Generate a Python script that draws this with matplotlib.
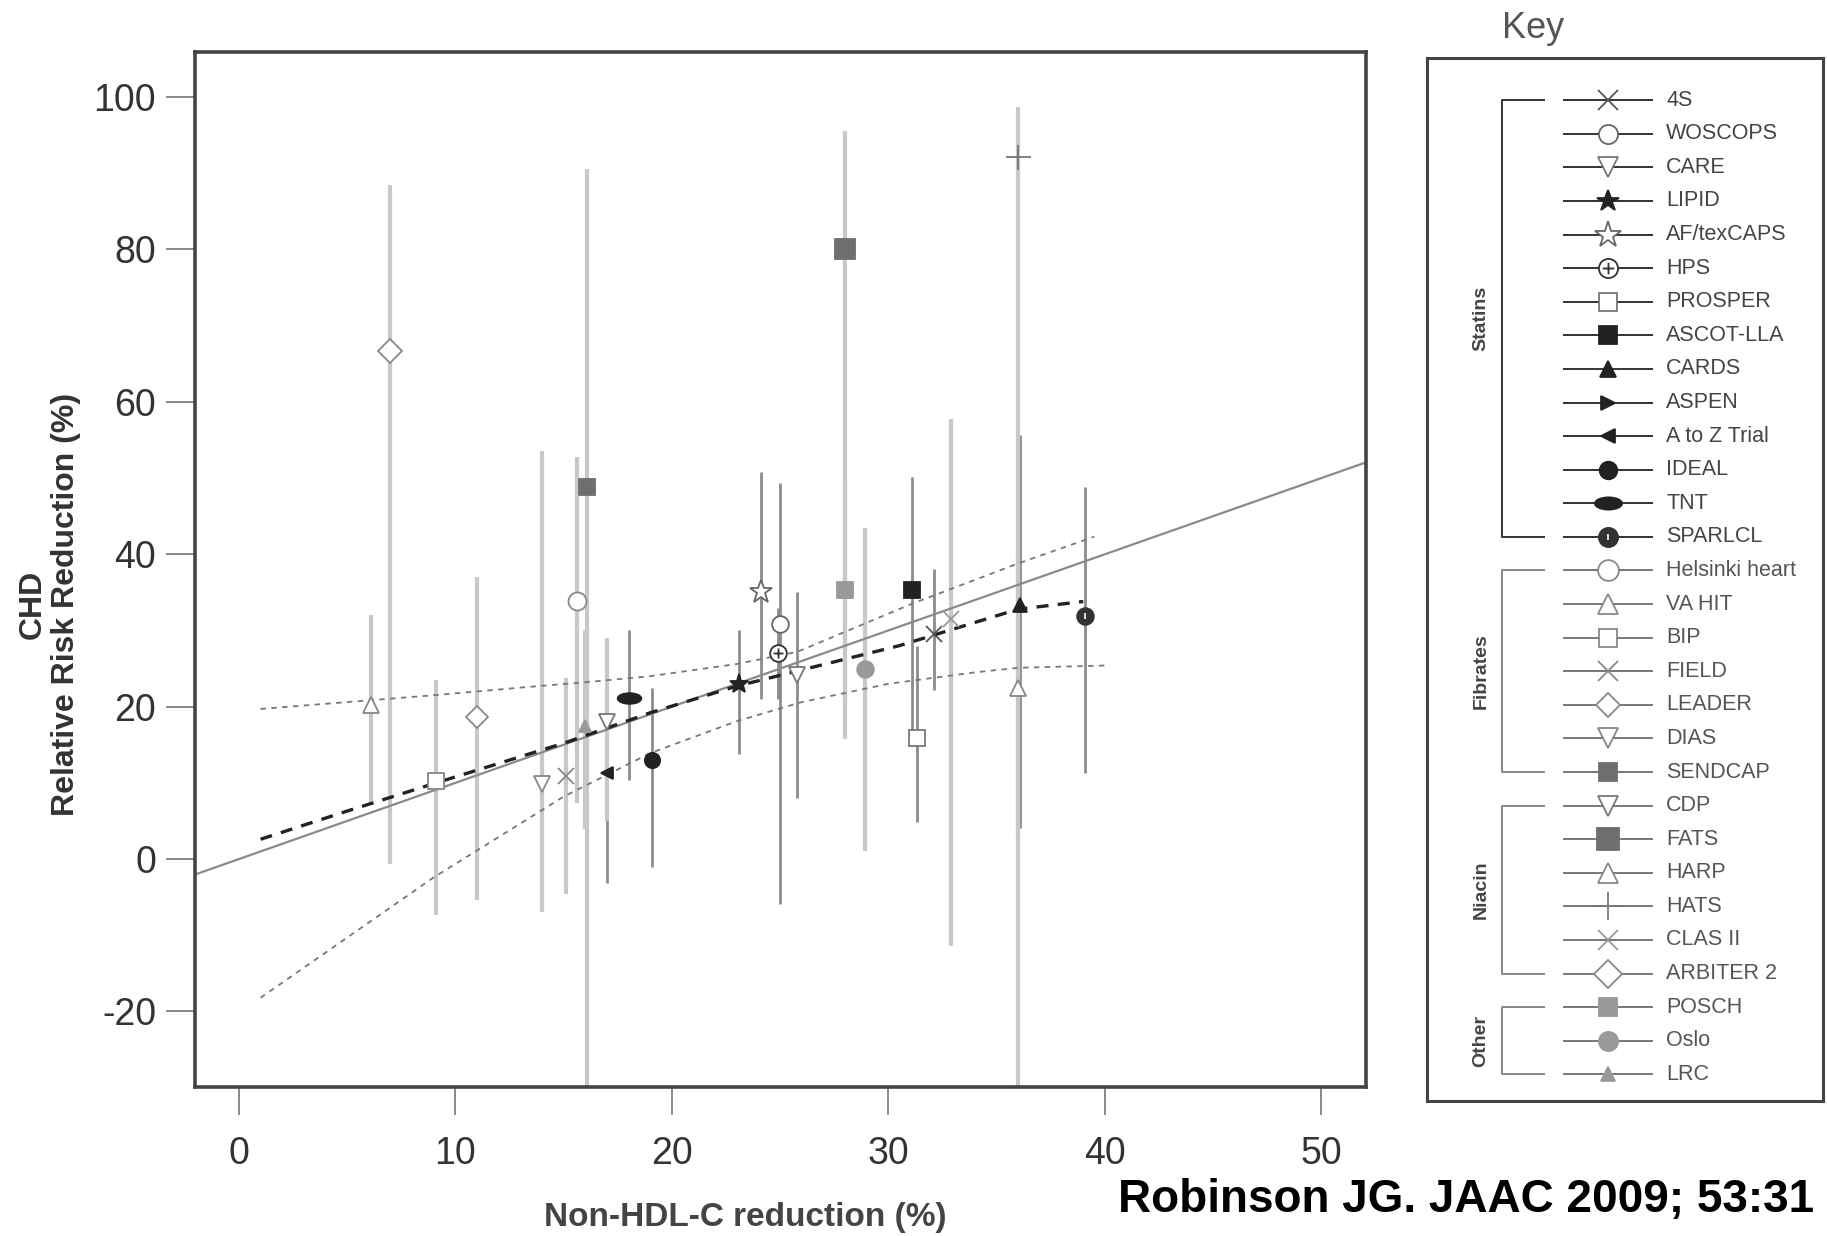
import numpy as np
import matplotlib
matplotlib.use("Agg")
import matplotlib.pyplot as plt
from matplotlib.path import Path
from matplotlib.transforms import Affine2D

plt.rcParams['font.family'] = ['Liberation Sans', 'DejaVu Sans']
plt.rcParams['axes.unicode_minus'] = False

nan = np.nan

# trials, grouped as in the key
trials = ['4S', 'WOSCOPS', 'CARE', 'LIPID', 'AF/texCAPS', 'HPS', 'PROSPER',
          'ASCOT-LLA', 'CARDS', 'ASPEN', 'A to Z Trial', 'IDEAL', 'TNT', 'SPARLCL',
          'Helsinki heart', 'VA HIT', 'BIP', 'FIELD', 'LEADER', 'DIAS', 'SENDCAP',
          'CDP', 'FATS', 'HARP', 'HATS', 'CLAS II', 'ARBITER 2',
          'POSCH', 'Oslo', 'LRC']
groups = ['Statins'] * 14 + ['Fibrates'] * 7 + ['Niacin'] * 6 + ['Other'] * 3
group_names = ['Statins', 'Fibrates', 'Niacin', 'Other']

# non-HDL-C reduction (%) and CHD relative risk reduction (%) with CI
non_hdl = [32.1, 25.0, 25.8, 23.1, 24.1, 24.9, 31.3, 31.1, 36.1, nan, 17.0, 19.1, 18.0, 39.1,
           15.6, 6.1, 9.1, 15.1, 11.0, 14.0, 16.1,
           17.0, 28.0, 36.0, 36.0, 32.9, 7.0,
           28.0, 28.9, 16.0]
rrr = [29.5, 30.9, 24.1, 23.0, 35.0, 27.0, 15.9, 35.3, 33.3, nan, 11.3, 13.0, 21.1, 31.9,
       33.9, 20.2, 10.2, 10.9, 18.6, 9.9, 48.8,
       18.0, 80.1, 22.5, 92.1, 31.5, 66.7,
       35.3, 25.0, 17.5]
ci_lo = [22.2, -5.9, 8.0, 13.8, 21.0, 21.0, 4.9, 17.0, 4.1, nan, -3.1, -1.1, 10.4, 11.3,
         7.4, 7.4, -7.4, -4.6, -5.4, -6.9, -32.0,
         5.0, 15.7, -32.0, 3.0, -11.4, -0.6,
         20.0, 1.1, 4.0]
ci_hi = [38.0, 49.3, 35.0, 30.0, 50.8, 33.0, 28.0, 50.1, 55.6, nan, 26.2, 22.5, 30.0, 48.8,
         52.8, 32.0, 23.5, 23.7, 37.0, 53.6, 90.6,
         29.0, 95.6, 40.0, 98.7, 57.8, 88.4,
         50.0, 43.4, 30.0]

# regression line with confidence band
fit_x = [1, 5, 9, 15, 19, 23, 30.5, 36, 39]
fit_y = [2.6, 6.3, 9.9, 15.2, 19.2, 22.7, 28.0, 32.8, 33.8]
upper_x = [1, 9, 13, 16, 19, 23, 25.8, 31, 36, 39.5]
upper_y = [19.7, 21.5, 22.5, 23.2, 24.0, 25.6, 27.2, 33.4, 38.8, 42.3]
lower_x = [1, 9, 15, 19, 23, 26, 30, 34, 36, 40]
lower_y = [-18.2, -2.4, 8.2, 13.9, 18.1, 20.6, 23.0, 24.5, 25.1, 25.4]
ref_x = np.array([-5.0, 55.0])
ref_y = ref_x * 1.0

xticks = [0, 10, 20, 30, 40, 50]
yticks = [-20, 0, 20, 40, 60, 80, 100]

# custom markers
ellipse = Path.unit_circle().transformed(Affine2D().scale(1.0, 0.45))
hps_mark = Path.make_compound_path(
    Path.unit_circle(),
    Path([(0, -0.6), (0, 0.6)], [Path.MOVETO, Path.LINETO]),
    Path([(-0.6, 0), (0.6, 0)], [Path.MOVETO, Path.LINETO]))

styles = {
    '4S': ('x', 'none', '#555555', 12),
    'WOSCOPS': ('o', 'white', '#666666', 12),
    'CARE': ('v', 'white', '#777777', 12),
    'LIPID': ('*', '#222222', '#222222', 14),
    'AF/texCAPS': ('*', 'white', '#666666', 17),
    'HPS': (hps_mark, 'white', '#333333', 12),
    'PROSPER': ('s', 'white', '#777777', 11),
    'ASCOT-LLA': ('s', '#222222', '#222222', 11),
    'CARDS': ('^', '#222222', '#222222', 10),
    'ASPEN': ('>', '#222222', '#222222', 9),
    'A to Z Trial': ('<', '#222222', '#222222', 9),
    'IDEAL': ('o', '#222222', '#222222', 11),
    'TNT': (ellipse, '#222222', '#222222', 17),
    'SPARLCL': ('o', '#333333', '#333333', 12),
    'Helsinki heart': ('o', 'white', '#888888', 13),
    'VA HIT': ('^', 'white', '#888888', 12),
    'BIP': ('s', 'white', '#888888', 11),
    'FIELD': ('x', 'none', '#888888', 12),
    'LEADER': ('D', 'white', '#888888', 11),
    'DIAS': ('v', 'white', '#888888', 12),
    'SENDCAP': ('s', '#6e6e6e', '#6e6e6e', 11),
    'CDP': ('v', 'white', '#777777', 12),
    'FATS': ('s', '#6e6e6e', '#6e6e6e', 14),
    'HARP': ('^', 'white', '#888888', 12),
    'HATS': ('+', 'none', '#777777', 18),
    'CLAS II': ('x', 'none', '#999999', 12),
    'ARBITER 2': ('D', 'white', '#888888', 12),
    'POSCH': ('s', '#999999', '#999999', 11),
    'Oslo': ('o', '#999999', '#999999', 12),
    'LRC': ('^', '#999999', '#999999', 9),
}

fig = plt.figure(figsize=(18.27, 12.36), dpi=100)
fig.patch.set_facecolor('white')

ax = fig.add_axes([0.1067, 0.1206, 0.6410, 0.8373])
ax.set_xlim(-2.03, 52.06)
ax.set_ylim(-29.9, 105.9)

# confidence interval bars
for i, name in enumerate(trials):
    if np.isnan(non_hdl[i]):
        continue
    if groups[i] == 'Statins':
        ax.vlines(non_hdl[i], ci_lo[i], ci_hi[i], color='#8c8c8c', lw=2.0, zorder=1)
    else:
        ax.vlines(non_hdl[i], ci_lo[i], ci_hi[i], color='#c8c8c8', lw=3.0, zorder=1)

ax.plot(ref_x, ref_y, color='#8a8a8a', lw=1.6, zorder=2)
ax.plot(fit_x, fit_y, color='#222222', lw=2.4, dashes=(3.6, 2.8), zorder=2)
ax.plot(upper_x, upper_y, color='#777777', lw=1.3, dashes=(3, 3), zorder=2)
ax.plot(lower_x, lower_y, color='#777777', lw=1.3, dashes=(3, 3), zorder=2)

for i, name in enumerate(trials):
    if np.isnan(non_hdl[i]):
        continue
    mk, fc, ec, ms = styles[name]
    ax.plot(non_hdl[i], rrr[i], marker=mk, ms=ms, mfc=fc, mec=ec, mew=1.3,
            linestyle='none', zorder=3)
    if name == 'SPARLCL':
        ax.plot(non_hdl[i], rrr[i], marker='|', ms=5, mec='white', mew=1.2,
                linestyle='none', zorder=4)

for s in ax.spines.values():
    s.set_color('#444444')
    s.set_linewidth(2.6)
ax.set_xticks(xticks)
ax.set_yticks(yticks)
ax.tick_params(axis='y', direction='out', length=21, width=1.2, color='#777777',
               labelsize=27, labelcolor='#333333', pad=7)
ax.tick_params(axis='x', direction='out', length=20, width=1.2, color='#777777',
               labelsize=27, labelcolor='#333333', pad=15)

fig.text(0.408, 0.0146, 'Non-HDL-C reduction (%)', fontsize=24, fontweight='bold',
         color='#444444', ha='center', va='center')
fig.text(0.018, 0.511, 'CHD', fontsize=23, fontweight='bold', color='#333333',
         rotation=90, ha='center', va='center')
fig.text(0.036, 0.511, 'Relative Risk Reduction (%)', fontsize=23, fontweight='bold',
         color='#333333', rotation=90, ha='center', va='center')

fig.text(0.612, 0.029, 'Robinson JG. JAAC 2009; 53:31', fontsize=33,
         fontweight='bold', color='black', ha='left', va='center')

# key
fig.text(0.839, 0.977, 'Key', fontsize=26, color='#555555', ha='center', va='center')
lax = fig.add_axes([1427 / 1827, 1 - 1101 / 1236, 396 / 1827, 1043 / 1236])
lax.set_xlim(1427, 1823)
lax.set_ylim(1101, 58)
lax.set_xticks([])
lax.set_yticks([])
for s in lax.spines.values():
    s.set_color('#444444')
    s.set_linewidth(2.2)

row0, step = 100.2, 33.59
for i, name in enumerate(trials):
    y = row0 + i * step
    dark = groups[i] == 'Statins'
    lc = '#333333' if dark else '#777777'
    mk, fc, ec, ms = styles[name]
    lax.plot([1564, 1652], [y, y], color=lc, lw=1.4, zorder=1)
    lax.plot(1608, y, marker=mk, ms=ms * 1.15, mfc=fc, mec=ec, mew=1.3,
             linestyle='none', zorder=2)
    if name == 'SPARLCL':
        lax.plot(1608, y, marker='|', ms=5, mec='white', mew=1.2, linestyle='none', zorder=3)
    lax.text(1666, y, name, fontsize=15.5, color='#444444' if dark else '#555555',
             ha='left', va='center')

for g in group_names:
    idx = [i for i, gg in enumerate(groups) if gg == g]
    y1 = row0 + idx[0] * step
    y2 = row0 + idx[-1] * step
    bc = '#333333' if g == 'Statins' else '#888888'
    lax.plot([1544, 1502, 1502, 1544], [y1, y1, y2, y2], color=bc, lw=1.4)
    lax.text(1481, (y1 + y2) / 2, g, rotation=90, fontsize=14, fontweight='bold',
             color='#444444', ha='center', va='center')

fig.savefig('out.png', dpi=100, facecolor='white')
